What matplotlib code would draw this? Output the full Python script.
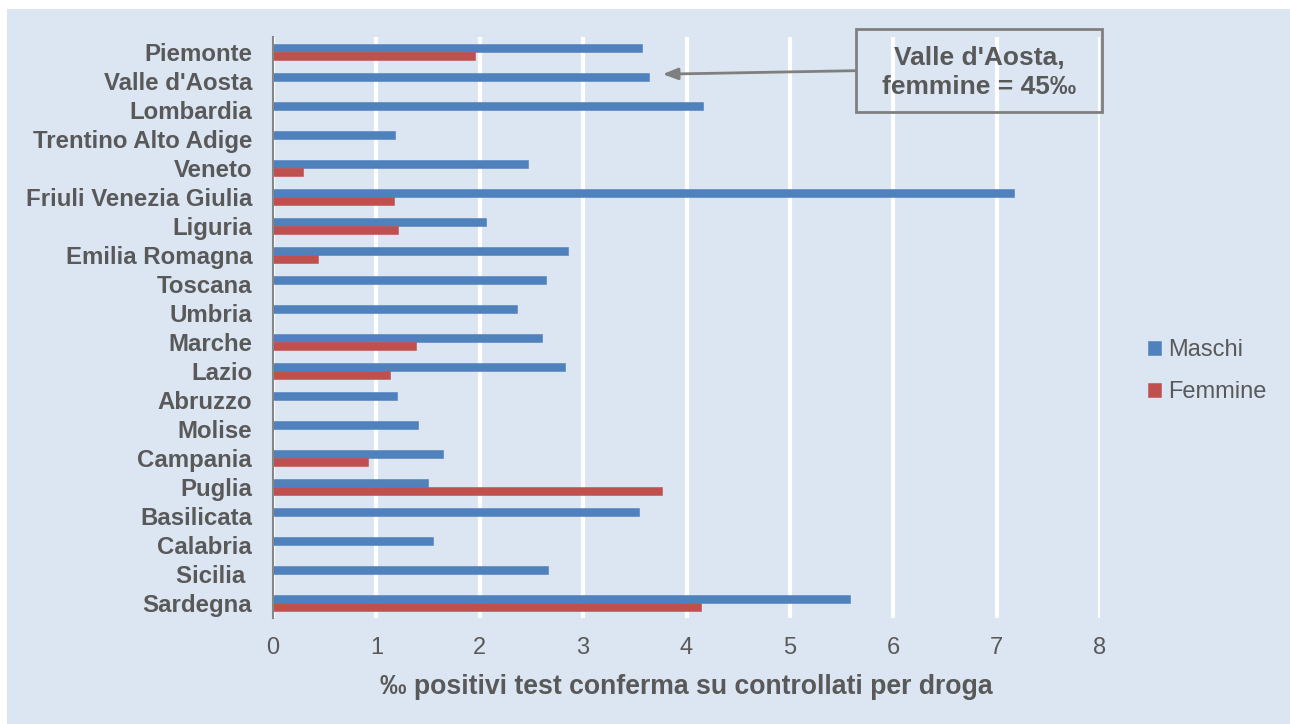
import numpy as np
import matplotlib
matplotlib.use("Agg")
import matplotlib.pyplot as plt
from matplotlib.patches import Rectangle

plt.rcParams['font.family'] = ['Liberation Sans', 'DejaVu Sans']

regioni = ["Piemonte", "Valle d'Aosta", "Lombardia", "Trentino Alto Adige", "Veneto",
           "Friuli Venezia Giulia", "Liguria", "Emilia Romagna", "Toscana", "Umbria",
           "Marche", "Lazio", "Abruzzo", "Molise", "Campania", "Puglia", "Basilicata",
           "Calabria", "Sicilia ", "Sardegna"]
maschi = [3.57, 3.64, 4.16, 1.18, 2.47, 7.17, 2.06, 2.85, 2.64, 2.36,
          2.60, 2.82, 1.20, 1.40, 1.64, 1.50, 3.54, 1.55, 2.66, 5.58]
femmine = [1.95, np.nan, 0.0, 0.0, 0.29, 1.17, 1.21, 0.44, 0.0, 0.0,
           1.38, 1.13, 0.0, 0.0, 0.92, 3.76, 0.0, 0.0, 0.0, 4.14]
vda_femmine = 45
xticks = [0, 1, 2, 3, 4, 5, 6, 7, 8]

BG = "#dce6f2"
BLUE = "#4f81bd"
RED = "#c0504d"
TXT = "#595959"
W, H = 1290, 724

fig = plt.figure(figsize=(W / 100, H / 100), dpi=100, facecolor="white")
fig.patches.append(Rectangle((7 / W, 0), 1 - 7 / W, 1 - 9 / H,
                             transform=fig.transFigure, facecolor=BG,
                             edgecolor="none", zorder=-10))

ax = fig.add_axes([273 / W, 1 - 618 / H, (1100 - 273) / W, (618 - 37) / H])
ax.set_facecolor("none")

y = np.arange(len(regioni))
h = 0.275
ax.barh(y - h / 2, maschi, height=h, color=BLUE, edgecolor=BLUE,
        linewidth=0.4, label="Maschi", zorder=3)
ax.barh(y + h / 2, femmine, height=h, color=RED, edgecolor=RED,
        linewidth=0.4, label="Femmine", zorder=3)

ax.set_xlim(0, 8)
ax.set_ylim(len(regioni) - 0.5, -0.5)
ax.set_xticks(xticks)
ax.set_yticks(y)
ax.set_yticklabels(regioni, fontweight="bold")
ax.tick_params(axis="y", length=0, pad=15, labelsize=17.3, labelcolor=TXT)
ax.tick_params(axis="x", length=0, pad=14, labelsize=17, labelcolor=TXT)

ax.grid(axis="x", color="white", linewidth=3, zorder=1)
ax.set_axisbelow(True)
for s in ["top", "right", "bottom"]:
    ax.spines[s].set_visible(False)
ax.spines["left"].set_color("#868686")
ax.spines["left"].set_linewidth(1.5)
ax.spines["left"].set_zorder(4)

fig.text(686.5 / W, 1 - 687 / H,
         "‰ positivi test conferma su controllati per droga",
         ha="center", va="center", fontsize=19.2, fontweight="bold", color=TXT)

# Callout box with arrow pointing to the Valle d'Aosta row
ax.add_patch(Rectangle((5.64, -0.78), 8.02 - 5.64, 2.86, transform=ax.transData,
                       facecolor="none", edgecolor="#7f7f7f", linewidth=2,
                       clip_on=False, zorder=5))
ax.text(6.83, 0.72, f"Valle d'Aosta,\nfemmine = {vda_femmine}‰", ha="center",
        va="center", fontsize=19, fontweight="bold", color=TXT,
        linespacing=1.3, zorder=6)
ax.annotate("", xy=(3.77, 0.78), xytext=(5.63, 0.66),
            arrowprops=dict(arrowstyle="-|>,head_length=0.9,head_width=0.35",
                            color="#7f7f7f", linewidth=2, shrinkA=0, shrinkB=0),
            zorder=5, annotation_clip=False)

leg = ax.legend(loc="center left", bbox_to_anchor=(1127 / W, 1 - 371 / H),
                bbox_transform=fig.transFigure, frameon=False, fontsize=17,
                handlelength=0.55, handleheight=0.55, handletextpad=0.3,
                labelspacing=0.85)
for t in leg.get_texts():
    t.set_color(TXT)

fig.savefig("out.png", dpi=100, facecolor="white")
